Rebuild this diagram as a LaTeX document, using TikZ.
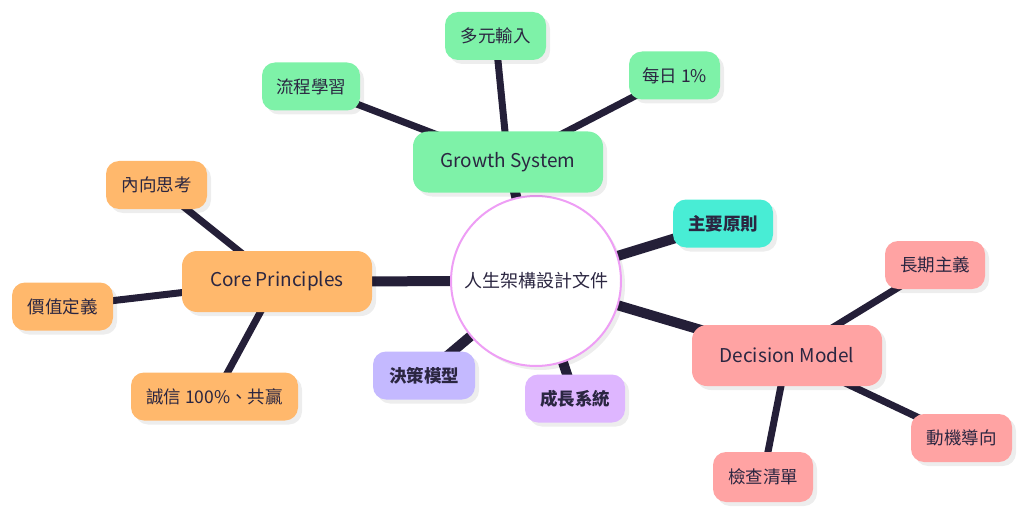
\documentclass[tikz,border=0pt]{standalone}
\usepackage{fontspec}
\setmainfont{Noto Sans CJK TC}
\usetikzlibrary{shadows}
\definecolor{ink}{HTML}{2B2641}
\definecolor{edge}{HTML}{241F38}
\definecolor{cgreen}{HTML}{7EF2A8}
\definecolor{corange}{HTML}{FFB86C}
\definecolor{cteal}{HTML}{48EDD5}
\definecolor{cpink}{HTML}{FFA3A3}
\definecolor{cblue}{HTML}{C4B9FF}
\definecolor{cviolet}{HTML}{DEB6FF}
\definecolor{cring}{HTML}{EE9EF5}
\pgfdeclarelayer{bg}\pgfsetlayers{bg,main}
\begin{document}
\begin{tikzpicture}[x=1pt,y=-1pt,
  shd/.style={drop shadow={shadow xshift=4pt,shadow yshift=-4pt,fill=black,opacity=0.07}},
  leaf/.style={shd,rounded corners=13pt,inner sep=0pt,minimum height=48pt,text=ink,font=\fontsize{17.5}{20}\selectfont},
  boldleaf/.style={leaf,font=\fontsize{17.5}{20}\selectfont\bfseries},
  hub/.style={shd,rounded corners=15pt,inner sep=0pt,minimum width=190pt,minimum height=61pt,text=ink,font=\fontsize{19}{22}\selectfont},
  main/.style={edge,line width=10pt},
  sub/.style={edge,line width=7pt}]
\useasboundingbox (0,0) rectangle (1024,513);
% nodes
\node[circle,shd,draw=cring,line width=2pt,fill=white,minimum size=170pt,inner sep=0pt,text=ink,font=\fontsize{18}{21}\selectfont] (c) at (536,281) {人生架構設計文件};
\node[hub,fill=cgreen] (gs) at (508,162) {Growth System};
\node[hub,fill=corange] (cp) at (277,281.5) {Core Principles};
\node[hub,fill=cpink] (dm) at (787,355.5) {Decision Model};
\node[boldleaf,fill=cteal,minimum width=100pt] (zy) at (723,223.5) {主要原則};
\node[boldleaf,fill=cblue,minimum width=102pt] (jc) at (424,375.5) {決策模型};
\node[boldleaf,fill=cviolet,minimum width=100pt] (cz) at (575,398.5) {成長系統};
\node[leaf,fill=cgreen,minimum width=101pt] (dy) at (495.5,36) {多元輸入};
\node[leaf,fill=cgreen,minimum width=98pt] (lc) at (311,86.5) {流程學習};
\node[leaf,fill=cgreen,minimum width=91pt] (mr) at (674.5,75.5) {每日 1\%};
\node[leaf,fill=corange,minimum width=101pt] (nx) at (156.5,185) {內向思考};
\node[leaf,fill=corange,minimum width=101pt] (jz) at (62.5,306.5) {價值定義};
\node[leaf,fill=corange,minimum width=167pt] (cx) at (214.5,396.5) {誠信 100\%、共贏};
\node[leaf,fill=cpink,minimum width=100pt] (cq) at (935,265) {長期主義};
\node[leaf,fill=cpink,minimum width=101pt] (dj) at (961.5,438) {動機導向};
\node[leaf,fill=cpink,minimum width=100pt,minimum height=50pt] (jq) at (763,477) {檢查清單};
% edges behind
\begin{pgfonlayer}{bg}
\draw[main] (c.center) -- (gs.center);
\draw[main] (c.center) -- (cp.center);
\draw[main] (c.center) -- (dm.center);
\draw[main] (c.center) -- (zy.center);
\draw[main] (c.center) -- (jc.center);
\draw[main] (c.center) -- (cz.center);
\draw[sub] (gs.center) -- (dy.center);
\draw[sub] (gs.center) -- (lc.center);
\draw[sub] (gs.center) -- (mr.center);
\draw[sub] (cp.center) -- (nx.center);
\draw[sub] (cp.center) -- (jz.center);
\draw[sub] (cp.center) -- (cx.center);
\draw[sub] (dm.center) -- (cq.center);
\draw[sub] (dm.center) -- (dj.center);
\draw[sub] (dm.center) -- (jq.center);
\end{pgfonlayer}
\end{tikzpicture}
\end{document}
